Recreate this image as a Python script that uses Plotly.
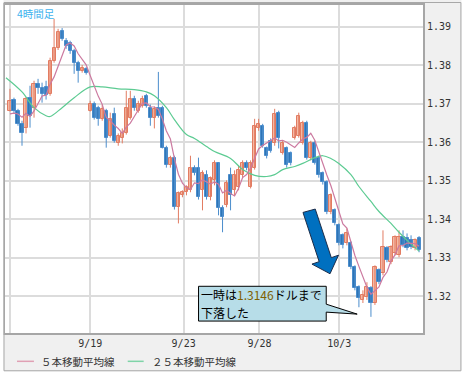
import plotly.graph_objects as go
import pandas as pd

# ---- data (4-hour candles) ----
opens = [1.3682, 1.3711, 1.3682, 1.3648, 1.3636, 1.3716, 1.3690, 1.3752, 1.3742, 1.3744,
         1.3726, 1.3812, 1.3846, 1.3890, 1.3864, 1.3859, 1.3838, 1.3807, 1.3786, 1.3791,
         1.3682, 1.3700, 1.3690, 1.3661, 1.3682, 1.3617, 1.3674, 1.3599, 1.3612, 1.3625,
         1.3664, 1.3713, 1.3682, 1.3695, 1.3721, 1.3690, 1.3664, 1.3690, 1.3690, 1.3586,
         1.3540, 1.3560, 1.3431, 1.3462, 1.3470, 1.3475, 1.3534, 1.3532, 1.3475, 1.3516,
         1.3457, 1.3501, 1.3545, 1.3428, 1.3436, 1.3514, 1.3475, 1.3483, 1.3514, 1.3547,
         1.3483, 1.3534, 1.3636, 1.3643, 1.3584, 1.3604, 1.3597, 1.3677, 1.3573, 1.3584,
         1.3571, 1.3612, 1.3617, 1.3599, 1.3651, 1.3558, 1.3599, 1.3560, 1.3519, 1.3496,
         1.3418, 1.3423, 1.3384, 1.3358, 1.3337, 1.3337, 1.3275, 1.3223, 1.3190, 1.3197,
         1.3221, 1.3182, 1.3267, 1.3260, 1.3324, 1.3288, 1.3311, 1.3306, 1.3353, 1.3350,
         1.3345, 1.3324, 1.3350]
highs = [1.3739, 1.3716, 1.3687, 1.3656, 1.3718, 1.3747, 1.3760, 1.3765, 1.3755, 1.3760,
         1.3820, 1.3921, 1.3895, 1.3897, 1.3871, 1.3864, 1.3843, 1.3812, 1.3801, 1.3796,
         1.3708, 1.3706, 1.3695, 1.3698, 1.3687, 1.3677, 1.3690, 1.3623, 1.3636, 1.3734,
         1.3734, 1.3721, 1.3708, 1.3721, 1.3726, 1.3698, 1.3693, 1.3783, 1.3695, 1.3591,
         1.3565, 1.3565, 1.3472, 1.3475, 1.3488, 1.3565, 1.3540, 1.3560, 1.3527, 1.3527,
         1.3511, 1.3553, 1.3547, 1.3436, 1.3501, 1.3534, 1.3527, 1.3540, 1.3553, 1.3553,
         1.3553, 1.3661, 1.3661, 1.3648, 1.3589, 1.3610, 1.3687, 1.3682, 1.3604, 1.3589,
         1.3576, 1.3643, 1.3677, 1.3656, 1.3656, 1.3604, 1.3604, 1.3565, 1.3524, 1.3501,
         1.3467, 1.3428, 1.3389, 1.3363, 1.3376, 1.3343, 1.3280, 1.3228, 1.3215, 1.3236,
         1.3226, 1.3280, 1.3272, 1.3371, 1.3330, 1.3332, 1.3358, 1.3371, 1.3371, 1.3363,
         1.3358, 1.3350, 1.3356]
lows = [1.3680, 1.3674, 1.3643, 1.3591, 1.3623, 1.3638, 1.3664, 1.3726, 1.3703, 1.3711,
        1.3721, 1.3807, 1.3840, 1.3864, 1.3843, 1.3830, 1.3778, 1.3755, 1.3781, 1.3776,
        1.3680, 1.3659, 1.3643, 1.3656, 1.3586, 1.3612, 1.3599, 1.3591, 1.3597, 1.3620,
        1.3659, 1.3682, 1.3677, 1.3690, 1.3690, 1.3643, 1.3636, 1.3664, 1.3584, 1.3534,
        1.3534, 1.3425, 1.3389, 1.3457, 1.3462, 1.3470, 1.3514, 1.3451, 1.3423, 1.3451,
        1.3449, 1.3488, 1.3410, 1.3366, 1.3431, 1.3423, 1.3462, 1.3475, 1.3508, 1.3527,
        1.3480, 1.3529, 1.3630, 1.3586, 1.3558, 1.3573, 1.3591, 1.3584, 1.3568, 1.3534,
        1.3540, 1.3607, 1.3612, 1.3594, 1.3555, 1.3553, 1.3542, 1.3508, 1.3490, 1.3413,
        1.3413, 1.3384, 1.3332, 1.3324, 1.3332, 1.3270, 1.3215, 1.3171, 1.3182, 1.3190,
        1.3146, 1.3177, 1.3231, 1.3254, 1.3288, 1.3283, 1.3306, 1.3301, 1.3327, 1.3319,
        1.3322, 1.3319, 1.3314]
closes = [1.3708, 1.3682, 1.3648, 1.3625, 1.3713, 1.3669, 1.3752, 1.3742, 1.3726, 1.3724,
          1.3812, 1.3846, 1.3887, 1.3869, 1.3851, 1.3838, 1.3807, 1.3786, 1.3794, 1.3781,
          1.3700, 1.3664, 1.3661, 1.3687, 1.3610, 1.3661, 1.3604, 1.3617, 1.3625, 1.3690,
          1.3713, 1.3690, 1.3700, 1.3713, 1.3695, 1.3664, 1.3687, 1.3669, 1.3586, 1.3540,
          1.3560, 1.3431, 1.3467, 1.3470, 1.3483, 1.3534, 1.3519, 1.3457, 1.3519, 1.3457,
          1.3506, 1.3545, 1.3428, 1.3405, 1.3493, 1.3462, 1.3514, 1.3527, 1.3545, 1.3532,
          1.3545, 1.3643, 1.3648, 1.3591, 1.3565, 1.3578, 1.3674, 1.3610, 1.3599, 1.3540,
          1.3545, 1.3638, 1.3669, 1.3651, 1.3560, 1.3599, 1.3547, 1.3514, 1.3496, 1.3418,
          1.3462, 1.3389, 1.3337, 1.3332, 1.3363, 1.3275, 1.3221, 1.3195, 1.3202, 1.3223,
          1.3182, 1.3275, 1.3236, 1.3327, 1.3293, 1.3327, 1.3353, 1.3353, 1.3332, 1.3324,
          1.3327, 1.3345, 1.3319]
prior_closes = [1.3672, 1.3660, 1.3668, 1.3662]   # candles just before the visible window

ma25_idx = [-1, 3, 6, 9, 10, 13, 16, 20, 23, 27, 31, 34, 36, 39, 41, 44, 46, 49, 51, 55,
            58, 61, 64, 66, 68, 71, 73, 76, 78, 80, 82, 85, 87, 90, 92, 95, 97, 100, 102]
ma25_val = [1.3768, 1.3731, 1.3690, 1.3669, 1.3667, 1.3690, 1.3716, 1.3744, 1.3744, 1.3739,
            1.3737, 1.3731, 1.3721, 1.3690, 1.3659, 1.3620, 1.3610, 1.3589, 1.3576, 1.3558,
            1.3529, 1.3514, 1.3511, 1.3516, 1.3529, 1.3537, 1.3545, 1.3560, 1.3565, 1.3558,
            1.3545, 1.3516, 1.3485, 1.3446, 1.3420, 1.3389, 1.3366, 1.3335, 1.3317]

tick_pos = [0, 20, 43.3, 62.2, 82.1]
tick_text = ["", "9/19", "9/23", "9/28", "10/3"]
y_ticks = [1.32, 1.33, 1.34, 1.35, 1.36, 1.37, 1.38, 1.39]

legend_names = ["５本移動平均線", "２５本移動平均線"]
title_label = "4時間足"
low_value = "1.3146"

# ---- derived ----
idx = list(range(len(closes)))
all_closes = pd.Series(prior_closes + closes)
ma5 = all_closes.rolling(5).mean().iloc[len(prior_closes) - 1:].tolist()
ma5_idx = list(range(-1, len(closes)))

up = [c >= o for o, c in zip(opens, closes)]
MIN_BODY = 0.00006

def bodies(sel):
    xs, base, height = [], [], []
    for i, (o, c, s) in enumerate(zip(opens, closes, up)):
        if s == sel:
            xs.append(i)
            base.append(min(o, c))
            height.append(max(abs(c - o), MIN_BODY))
    return xs, base, height

def wicks(sel):
    xs, ys = [], []
    for i, (h, l, s) in enumerate(zip(highs, lows, up)):
        if s == sel:
            xs += [i, i, None]
            ys += [l, h, None]
    return xs, ys

# ---- geometry helpers (pixel -> paper) ----
W, H = 468, 378
PL, PR, PT, PB = 4, 423, 3, 333
def px(x):
    return (x - PL) / (PR - PL)
def py(y):
    return (PB - y) / (PB - PT)
def path(points):
    return "M " + " L ".join(f"{px(x):.5f},{py(y):.5f}" for x, y in points) + " Z"

C_UP_LINE = "#e27c62"
C_UP_FILL = "#f4b9a5"
C_DN_LINE = "#4b8dcc"
C_DN_FILL = "#2e75b6"
C_MA5 = "#cc7aa0"
C_MA25 = "#5ccb92"

fig = go.Figure()
for sel, lc in [(True, C_UP_LINE), (False, C_DN_LINE)]:
    wx, wy = wicks(sel)
    fig.add_trace(go.Scatter(x=wx, y=wy, mode="lines", line=dict(color=lc, width=1),
                             showlegend=False, hoverinfo="skip"))
for sel, lc, fc in [(True, C_UP_LINE, C_UP_FILL), (False, C_DN_LINE, C_DN_FILL)]:
    bx, bb, bh = bodies(sel)
    fig.add_trace(go.Bar(x=bx, y=bh, base=bb, width=0.78,
                         marker=dict(color=fc, line=dict(color=lc, width=1)),
                         showlegend=False, hoverinfo="skip"))
fig.add_trace(go.Scatter(x=ma25_idx, y=ma25_val, mode="lines",
                         line=dict(color=C_MA25, width=1.2, shape="spline"),
                         showlegend=False, hoverinfo="skip"))
fig.add_trace(go.Scatter(x=ma5_idx, y=ma5, mode="lines",
                         line=dict(color=C_MA5, width=1.2),
                         showlegend=False, hoverinfo="skip"))

shapes = []
# white area outside outer frame
for x0, y0, x1, y1 in [(461.5, -5, 475, 385), (-5, 371.5, 475, 385), (-5, -5, 2.5, 385)]:
    shapes.append(dict(type="rect", xref="paper", yref="paper",
                       x0=px(x0), x1=px(x1), y0=py(y1), y1=py(y0),
                       fillcolor="white", line=dict(width=0), layer="above"))
# outer frame
shapes.append(dict(type="rect", xref="paper", yref="paper",
                   x0=px(3), x1=px(461), y0=py(371), y1=py(0.5),
                   line=dict(color="#a8a8a8", width=1), layer="above"))
# blue arrow
arrow_pts = [(302.7, 211.7), (318.9, 261.2), (311.7, 263.7), (329.8, 273.4),
             (338.3, 254.7), (331.1, 257.2), (315.0, 208.3)]
shapes.append(dict(type="path", xref="paper", yref="paper", path=path(arrow_pts),
                   fillcolor="#0070c0", line=dict(color="#1c2d4a", width=1), layer="above"))
# callout (box with tail)
callout_pts = [(198, 286), (326, 286), (326, 304), (357, 314), (326, 312),
               (326, 321), (198, 321)]
shapes.append(dict(type="path", xref="paper", yref="paper", path=path(callout_pts),
                   fillcolor="#b7dde8", line=dict(color="black", width=1), layer="above"))
# legend lines
shapes.append(dict(type="line", xref="paper", yref="paper", x0=px(16), x1=px(33),
                   y0=py(361.5), y1=py(361.5), line=dict(color="#e0a0b4", width=1.5)))
shapes.append(dict(type="line", xref="paper", yref="paper", x0=px(127), x1=px(143),
                   y0=py(361.5), y1=py(361.5), line=dict(color="#7fd4a8", width=1.5)))

JP = "Noto Sans CJK JP"
annotations = [
    dict(xref="paper", yref="paper", x=px(14), y=py(12), text=title_label,
         showarrow=False, xanchor="left", yanchor="middle",
         font=dict(family=JP, size=10.5, color="#3db2ee")),
    dict(xref="paper", yref="paper", x=px(198), y=py(294),
         text=f"一時は<span style='color:#7f6000'>{low_value}</span>ドルまで",
         showarrow=False, xanchor="left", yanchor="middle",
         font=dict(family=JP, size=12, color="black")),
    dict(xref="paper", yref="paper", x=px(198), y=py(312), text="下落した",
         showarrow=False, xanchor="left", yanchor="middle",
         font=dict(family=JP, size=12, color="black")),
    dict(xref="paper", yref="paper", x=px(38), y=py(362), text=legend_names[0],
         showarrow=False, xanchor="left", yanchor="middle",
         font=dict(family=JP, size=10.5, color="#333333")),
    dict(xref="paper", yref="paper", x=px(149), y=py(362), text=legend_names[1],
         showarrow=False, xanchor="left", yanchor="middle",
         font=dict(family=JP, size=10.5, color="#333333")),
]

fig.update_layout(
    width=W, height=H,
    margin=dict(l=PL, r=W - PR, t=PT, b=H - PB, pad=0),
    paper_bgcolor="#f0f0f0", plot_bgcolor="white",
    shapes=shapes, annotations=annotations,
    showlegend=False, barmode="overlay", bargap=0,
    xaxis=dict(range=[-1.24, 102.98], tickvals=tick_pos, ticktext=tick_text,
               showgrid=True, gridcolor="#dcdcdc", gridwidth=2,
               showline=True, mirror=True, linecolor="#a6a6a6", linewidth=2,
               ticks="", zeroline=False,
               tickfont=dict(family="DejaVu Sans Mono", size=10, color="#333333"),
               fixedrange=True),
    yaxis=dict(range=[1.3104, 1.3957], side="right", tickvals=y_ticks,
               ticktext=[f"{v:.2f}" for v in y_ticks],
               showgrid=True, gridcolor="#dcdcdc", gridwidth=2,
               showline=True, mirror=True, linecolor="#a6a6a6", linewidth=2,
               ticks="", zeroline=False,
               tickfont=dict(family="DejaVu Sans Mono", size=10, color="#333333"),
               fixedrange=True),
)

fig.write_html("out.html", config={"displayModeBar": False},
               post_script="document.body.style.margin='0';")
